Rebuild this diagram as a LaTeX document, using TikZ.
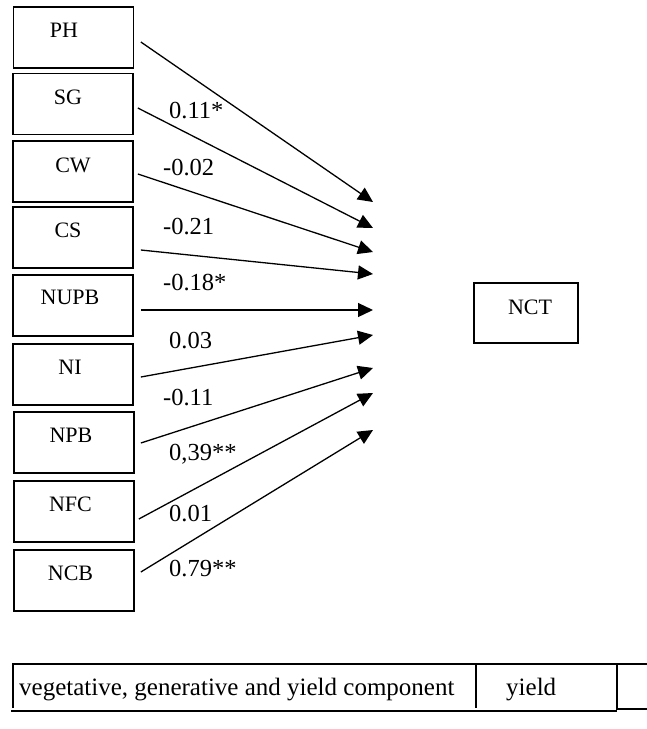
\documentclass[tikz,border=0pt]{standalone}
\usepackage{fontspec}
\setmainfont{Liberation Serif}
\usetikzlibrary{arrows.meta,calc}

\tikzset{
  varbox/.style={draw, line width=1.7pt, minimum width=120pt, minimum height=61pt, inner sep=0pt},
  boxtext/.style={anchor=base, inner sep=0pt, font=\fontsize{22}{26}\selectfont},
  coef/.style={anchor=base west, inner sep=0pt, font=\fontsize{24.5}{29}\selectfont},
  path/.style={line width=1.3pt, -{Triangle[length=15pt,width=14pt]}},
  rule/.style={line width=1.6pt},
  tabtext/.style={anchor=base west, inner sep=0pt, font=\fontsize{25}{30}\selectfont}
}

\begin{document}
\begin{tikzpicture}[x=1pt, y=-1pt]
\useasboundingbox (0,0) rectangle (647,729);

% predictor boxes
\node[varbox] (ph)   at (73.5,37.5)  {};
\node[varbox] (sg)   at (73,104)     {};
\node[varbox] (cw)   at (73,171.5)   {};
\node[varbox] (cs)   at (73,237.5)   {};
\node[varbox] (nupb) at (73,305.5)   {};
\node[varbox] (ni)   at (73,374.5)   {};
\node[varbox] (npb)  at (74,442.5)   {};
\node[varbox] (nfc)  at (74,511.5)   {};
\node[varbox] (ncb)  at (74,580.5)   {};

\node[boxtext] (phT)   at ([xshift=-9.5pt,yshift=-31pt]ph.north)  {PH};
\node[boxtext] (sgT)   at ([xshift=-5pt,yshift=-32pt]sg.north)    {SG};
\node[boxtext] (cwT)   at ([xshift=0pt,yshift=-32pt]cw.north)     {CW};
\node[boxtext] (csT)   at ([xshift=-5pt,yshift=-31pt]cs.north)    {CS};
\node[boxtext] (nupbT) at ([xshift=-3pt,yshift=-30pt]nupb.north)  {NUPB};
\node[boxtext] (niT)   at ([xshift=-3pt,yshift=-31pt]ni.north)    {NI};
\node[boxtext] (npbT)  at ([xshift=-3pt,yshift=-31pt]npb.north)   {NPB};
\node[boxtext] (nfcT)  at ([xshift=-3.5pt,yshift=-31pt]nfc.north) {NFC};
\node[boxtext] (ncbT)  at ([xshift=-3.5pt,yshift=-31pt]ncb.north) {NCB};

% response box
\node[varbox, minimum width=104pt, minimum height=60pt] (nct) at (526,313) {};
\node[boxtext] (nctT) at ([xshift=4pt,yshift=-32pt]nct.north) {NCT};

% arrow tips in front of the response
\coordinate (tPH)   at (373,202);
\coordinate (tSG)   at (373,228);
\coordinate (tCW)   at (373,252);
\coordinate (tCS)   at (373,274);
\coordinate (tNUPB) at (373,310);
\coordinate (tNI)   at (373,335);
\coordinate (tNPB)  at (373,368);
\coordinate (tNFC)  at (373,393);
\coordinate (tNCB)  at (373,430);

\draw[path] ($(ph.east)+(6.5,4.5)$)   -- (tPH);
\draw[path] ($(sg.east)+(4,4)$)       -- (tSG);
\draw[path] ($(cw.east)+(4,2.5)$)     -- (tCW);
\draw[path] ($(cs.east)+(7,12.5)$)    -- (tCS);
\draw[path] ($(nupb.east)+(7,4.5)$)   -- (tNUPB);
\draw[path] ($(ni.east)+(7,2.5)$)     -- (tNI);
\draw[path] ($(npb.east)+(6,0.5)$)    -- (tNPB);
\draw[path] ($(nfc.east)+(4,7.5)$)    -- (tNFC);
\draw[path] ($(ncb.east)+(6,-8.5)$)   -- (tNCB);

% path coefficients
\node[coef] (c1) at (169,118) {0.11*};
\node[coef] (c2) at (163,175) {-0.02};
\node[coef] (c3) at (163,234) {-0.21};
\node[coef] (c4) at (163,290) {-0.18*};
\node[coef] (c5) at (169,348) {0.03};
\node[coef] (c6) at (163,405) {-0.11};
\node[coef] (c7) at (169,460) {0,39**};
\node[coef] (c8) at (169,521) {0.01};
\node[coef] (c9) at (169,576) {0.79**};

% legend table
\draw[rule] (13,708) -- (13,664) -- (617,664);
\draw[rule] (476,664) -- (476,708);
\draw[line width=2.2pt] (11,711) -- (617,711);
\draw[rule] (647,664) -- (617,664) -- (617,709) -- (647,709);
\node[tabtext] (lg1) at (19,695)  {vegetative, generative and yield component};
\node[tabtext] (lg2) at (506,695) {yield};
\end{tikzpicture}
\end{document}
